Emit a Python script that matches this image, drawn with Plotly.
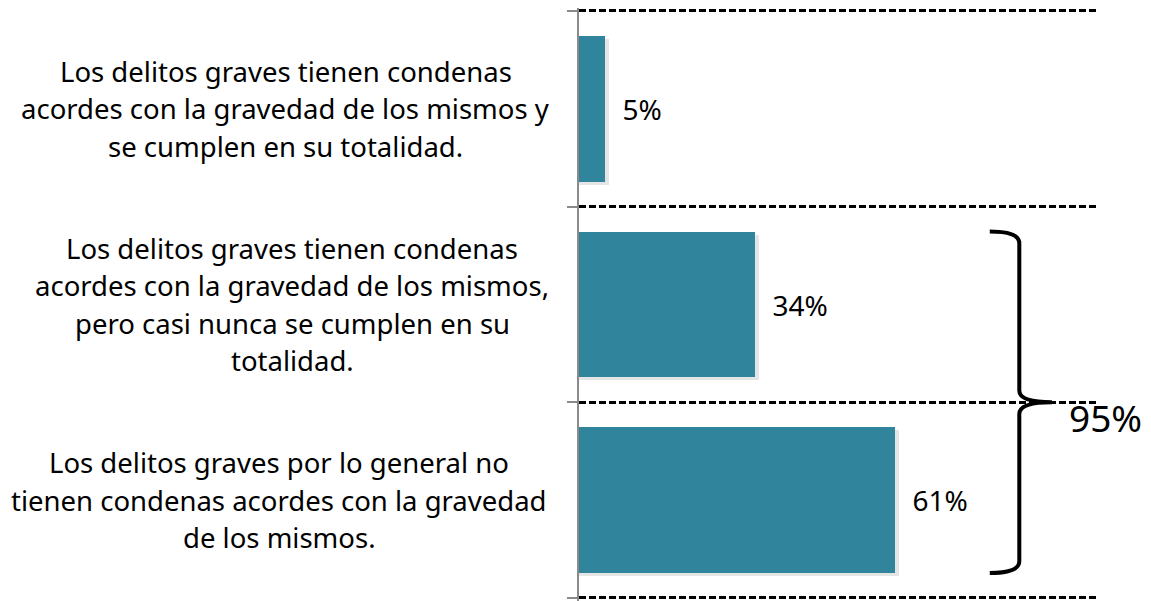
import plotly.graph_objects as go

## category labels, one list of lines per bar (top to bottom)
labels = [
    ["Los delitos graves tienen condenas",
     "acordes con la gravedad de los mismos y",
     "se cumplen en su totalidad."],
    ["Los delitos graves tienen condenas",
     "acordes con la gravedad de los mismos,",
     "pero casi nunca se cumplen en su",
     "totalidad."],
    ["Los delitos graves por lo general no",
     "tienen condenas acordes con la gravedad",
     "de los mismos."],
]
values = [5, 34, 61]
total_label = "95%"

positions = list(range(len(values)))
bar_w = 0.745
color = "#30849B"
font = "Noto Sans"

fig = go.Figure()
## soft shadow behind the bars
fig.add_trace(go.Bar(y=positions, x=[v + 0.7 for v in values], orientation="h", width=bar_w,
                     offset=-bar_w / 2 + 0.016, marker=dict(color="rgba(0,0,0,0.10)", line=dict(width=0)),
                     hoverinfo="skip", showlegend=False))
fig.add_trace(go.Bar(y=positions, x=values, orientation="h", width=bar_w, offset=-bar_w / 2,
                     marker=dict(color=color, line=dict(width=0)),
                     text=["\u00a0\u00a0%d%%" % v for v in values], textposition="outside",
                     constraintext="none", cliponaxis=False,
                     textfont=dict(family=font, size=28, color="black"),
                     hoverinfo="skip", showlegend=False))

## category labels, one annotation per line
centers = [-0.566, -0.554, -0.579]
line_step = 0.191
for i, lines in enumerate(labels):
    n = len(lines)
    for j, txt in enumerate(lines):
        fig.add_annotation(x=centers[i], xref="paper", y=positions[i] + (j - (n - 1) / 2) * line_step, yref="y",
                           text=txt, showarrow=False, xanchor="center", yanchor="middle",
                           font=dict(family=font, size=27.5, color="black"))

## brace grouping the last two bars
top = positions[1] - bar_w / 2
bot = positions[2] + bar_w / 2
mid = (positions[1] + positions[2]) / 2
xa, xb, xc = 79.3, 85.0, 91.3
path = ("M %f,%f Q %f,%f %f,%f L %f,%f Q %f,%f %f,%f Q %f,%f %f,%f L %f,%f Q %f,%f %f,%f" % (
    xa, top, xb, top, xb, top + 0.06,
    xb, mid - 0.06,
    xb, mid, xc, mid,
    xb, mid, xb, mid + 0.06,
    xb, bot - 0.06,
    xb, bot, xa, bot))
fig.add_shape(type="path", path=path, xref="x", yref="y", line=dict(color="black", width=4))
fig.add_annotation(x=1.017, xref="paper", y=mid, yref="y", text=total_label, showarrow=False,
                   xanchor="center", yanchor="top", yshift=12,
                   font=dict(family=font, size=37, color="black"))

fig.update_xaxes(range=[0, 100], visible=False)
fig.update_yaxes(range=[2.516, -0.515], tickvals=[-0.5, 0.5, 1.5, 2.5], showticklabels=False,
                 ticks="outside", ticklen=10, tickwidth=2, tickcolor="#8a8a8a",
                 showline=True, linecolor="#8a8a8a", linewidth=2, zeroline=False,
                 showgrid=True, gridcolor="black", gridwidth=2.5, griddash="7px,3px")
## page body adds an 8px offset, so the figure is 8px smaller than the window
fig.update_layout(width=1143, height=593, barmode="overlay", bargap=0,
                  margin=dict(l=571, r=54, t=0, b=0),
                  plot_bgcolor="white", paper_bgcolor="white")
fig.write_html("out.html")
